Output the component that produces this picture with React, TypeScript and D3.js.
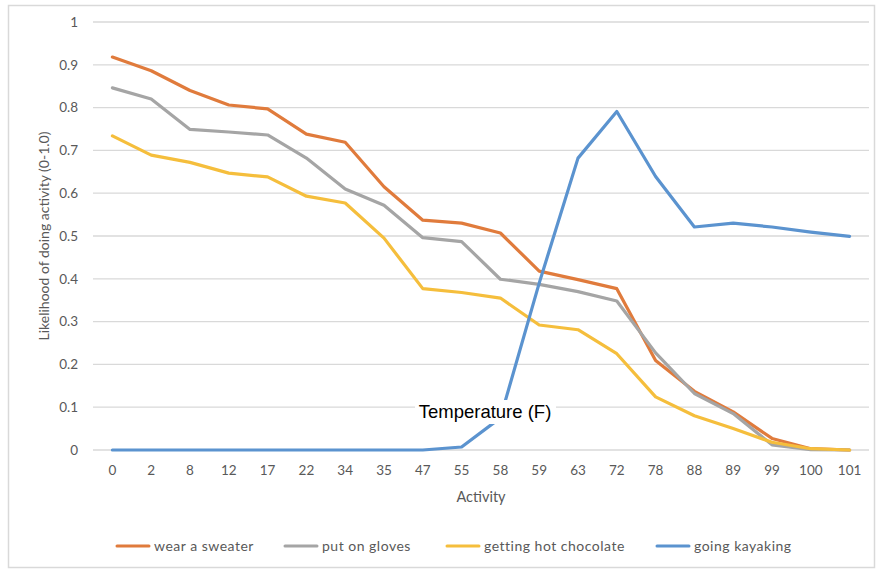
import React from "react";
import * as d3 from "d3";

// Temperature readings (°F) along the category axis
const temps = ["0", "2", "8", "12", "17", "22", "34", "35", "47", "55", "58", "59", "63", "72", "78", "88", "89", "99", "100", "101"];

const sweater = [0.918, 0.886, 0.84, 0.806, 0.797, 0.738, 0.719, 0.615, 0.537, 0.53, 0.507, 0.418, 0.398, 0.377, 0.209, 0.137, 0.089, 0.027, 0.003, 0];
const gloves = [0.846, 0.82, 0.749, 0.743, 0.736, 0.682, 0.61, 0.572, 0.496, 0.487, 0.399, 0.387, 0.37, 0.348, 0.227, 0.132, 0.085, 0.012, 0.001, 0];
const hotChocolate = [0.734, 0.689, 0.672, 0.647, 0.638, 0.593, 0.577, 0.495, 0.377, 0.368, 0.355, 0.292, 0.281, 0.225, 0.124, 0.08, 0.05, 0.018, 0.003, 0];
const kayaking = [0, 0, 0, 0, 0, 0, 0, 0, 0, 0.007, 0.075, 0.39, 0.682, 0.791, 0.639, 0.521, 0.53, 0.521, 0.509, 0.499];

const seriesNames = ["wear a sweater", "put on gloves", "getting hot chocolate", "going kayaking"];
const seriesValues = [sweater, gloves, hotChocolate, kayaking];
const seriesColors = ["#E07B3C", "#A5A5A5", "#F5BE3C", "#5B93CF"];

const yTicks = [0, 0.1, 0.2, 0.3, 0.4, 0.5, 0.6, 0.7, 0.8, 0.9, 1];

const W = 878;
const H = 569;
const plot = { left: 93, right: 869, top: 22, bottom: 450 };
const font = "Lato, 'Open Sans', 'DejaVu Sans', sans-serif";
const legendX = [117, 285, 447, 657];

export default function App() {
  const x = d3.scaleBand<string>().domain(temps).range([plot.left, plot.right]);
  const cx = (t: string) => (x(t) as number) + x.bandwidth() / 2;
  const y = d3.scaleLinear().domain([0, 1]).range([plot.bottom, plot.top]);

  const line = d3
    .line<number>()
    .x((_, i) => cx(temps[i]))
    .y((v) => y(v));

  return (
    <svg
      width={W}
      height={H}
      style={{ position: "absolute", left: 0, top: 0, background: "#fff" }}
      fontFamily={font}
    >
      <rect x={0} y={0} width={W} height={H} fill="#fff" />
      <rect x={8.5} y={5.5} width={866} height={562} fill="none" stroke="#D9D9D9" strokeWidth={1.5} />

      {/* horizontal gridlines and value labels */}
      {yTicks.map((t) => (
        <g key={t}>
          <line x1={plot.left} x2={plot.right} y1={y(t)} y2={y(t)} stroke="#D9D9D9" strokeWidth={1.3} />
          <text x={78} y={y(t)} dy="0.35em" textAnchor="end" fontSize={13.5} fill="#595959">
            {t}
          </text>
        </g>
      ))}

      {/* category labels */}
      {temps.map((t) => (
        <text key={t} x={cx(t)} y={470} dy="0.35em" textAnchor="middle" fontSize={13.5} fill="#595959">
          {t}
        </text>
      ))}

      {/* series lines */}
      {seriesValues.map((vals, i) => (
        <path
          key={seriesNames[i]}
          d={line(vals) as string}
          fill="none"
          stroke={seriesColors[i]}
          strokeWidth={3.2}
          strokeLinejoin="round"
          strokeLinecap="round"
        />
      ))}

      {/* axis titles */}
      <text
        transform={`translate(44,${(plot.top + plot.bottom) / 2}) rotate(-90)`}
        textAnchor="middle"
        dy="0.35em"
        fontSize={14}
        fill="#595959"
      >
        Likelihood of doing activity (0-1.0)
      </text>
      <text x={481} y={497} dy="0.35em" textAnchor="middle" fontSize={14.5} fill="#595959">
        Activity
      </text>

      {/* floating temperature caption */}
      <rect x={415} y={400} width={141} height={24} fill="#fff" />
      <text x={485} y={412} dy="0.35em" textAnchor="middle" fontSize={18.5} fill="#000" fontFamily="'Liberation Sans', Arial, sans-serif">
        Temperature (F)
      </text>

      {/* legend */}
      {seriesNames.map((name, i) => (
        <g key={name} transform={`translate(${legendX[i]},546)`}>
          <line x1={0} x2={32} y1={0} y2={0} stroke={seriesColors[i]} strokeWidth={3} strokeLinecap="round" />
          <text x={37} y={0} dy="0.35em" fontSize={14} letterSpacing={0.5} fill="#595959">
            {name}
          </text>
        </g>
      ))}
    </svg>
  );
}
